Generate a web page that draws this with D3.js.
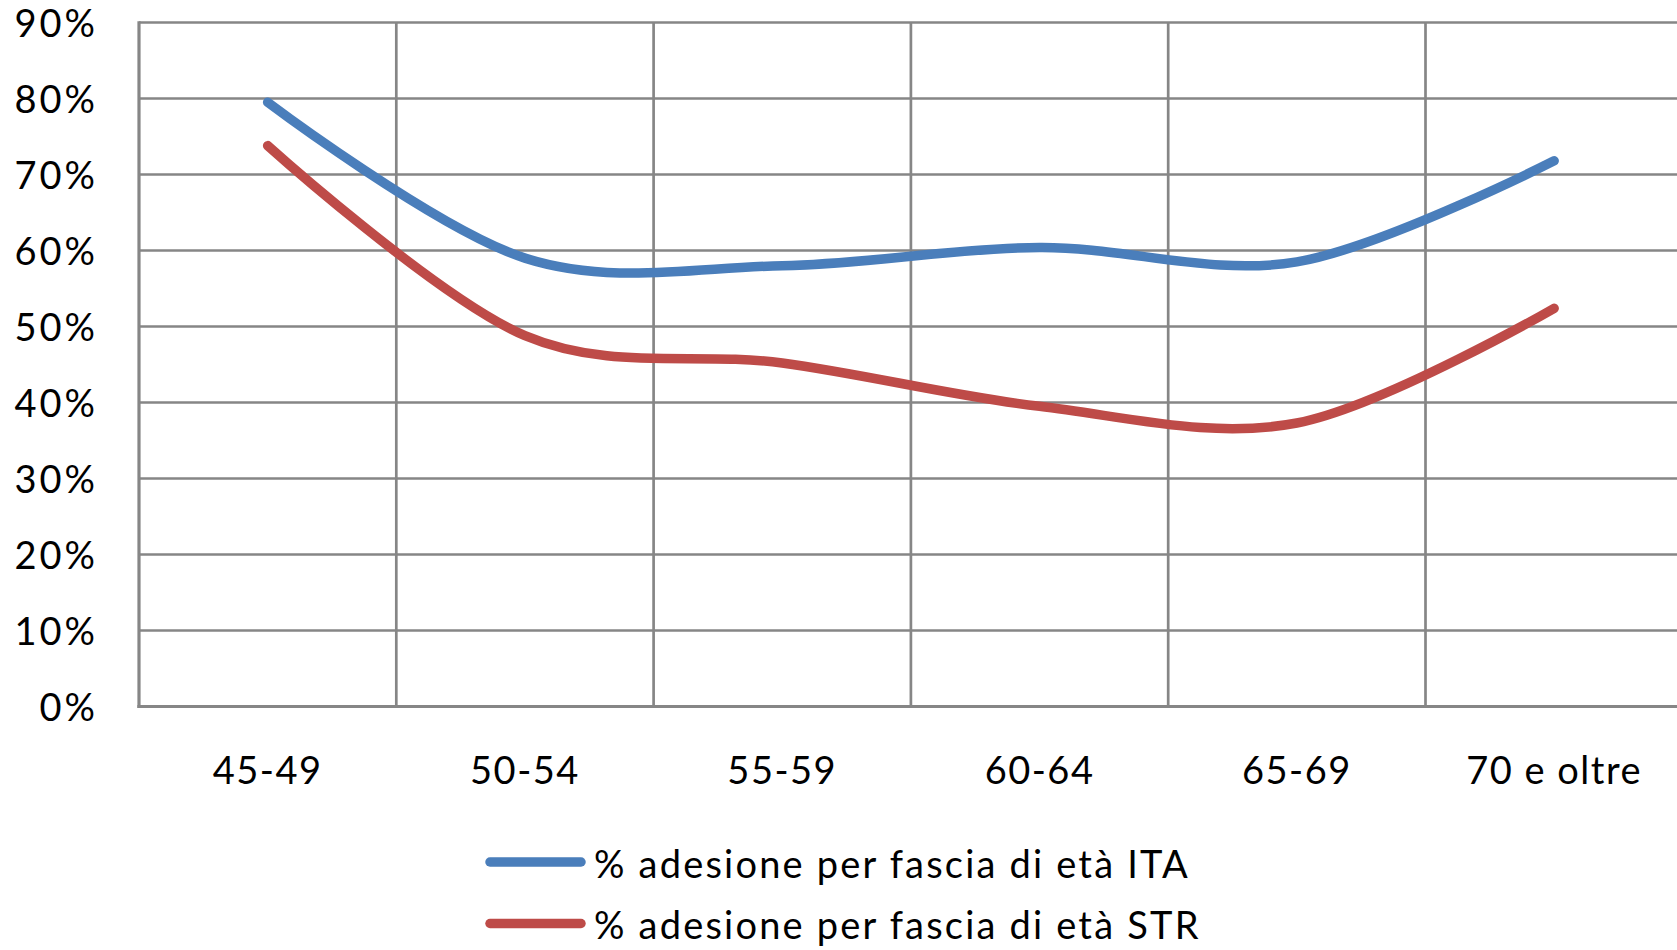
<!DOCTYPE html>
<html>
<head>
<meta charset="utf-8">
<script src="https://cdn.jsdelivr.net/npm/d3@7"></script>
<style>
  html, body { margin: 0; padding: 0; background: #fff; overflow: hidden; }
  svg { display: block; }
  text { font-family: Lato, "Noto Sans", sans-serif; fill: #000; }
</style>
</head>
<body>
<svg id="chart" width="1677" height="950"></svg>
<script>
// ---- data ----
const categories = ["45-49", "50-54", "55-59", "60-64", "65-69", "70 e oltre"];
const seriesNames = ["% adesione per fascia di età ITA", "% adesione per fascia di età STR"];
const itaValues = [0.795, 0.590, 0.580, 0.604, 0.585, 0.718];
const strValues = [0.738, 0.488, 0.452, 0.395, 0.373, 0.524];
const yTicks = [0, 0.1, 0.2, 0.3, 0.4, 0.5, 0.6, 0.7, 0.8, 0.9];
const seriesColors = ["#4A7EBB", "#BE4B48"];

(function () {
  // ---- layout ----
  const W = 1677;
  const plotLeft = 139, bandW = 257.3, plotTop = 22.5, plotBottom = 706.5;
  const fontSize = 38;
  const fontFam = "Lato, 'Noto Sans', sans-serif";

  const svg = d3.select("#chart");

  const x = d3.scaleBand().domain(categories).range([plotLeft, plotLeft + bandW * categories.length]).padding(0);
  const y = d3.scaleLinear().domain([0, 0.9]).range([plotBottom, plotTop]);
  const xc = d => x(d) + x.bandwidth() / 2;

  const gridColor = "#868686";

  // horizontal gridlines
  svg.append("g").selectAll("line").data(yTicks.filter(t => t > 0)).join("line")
    .attr("x1", plotLeft).attr("x2", W)
    .attr("y1", d => y(d)).attr("y2", d => y(d))
    .attr("stroke", gridColor).attr("stroke-width", 2.7);

  // vertical gridlines (band boundaries)
  svg.append("g").selectAll("line").data(categories.slice(1)).join("line")
    .attr("x1", d => x(d)).attr("x2", d => x(d))
    .attr("y1", plotTop).attr("y2", plotBottom)
    .attr("stroke", gridColor).attr("stroke-width", 2.7);

  // axis lines
  svg.append("line").attr("x1", plotLeft).attr("x2", plotLeft).attr("y1", plotTop - 1.3).attr("y2", plotBottom + 1.6)
    .attr("stroke", gridColor).attr("stroke-width", 3.2);
  svg.append("line").attr("x1", plotLeft - 1.6).attr("x2", W).attr("y1", plotBottom).attr("y2", plotBottom)
    .attr("stroke", gridColor).attr("stroke-width", 3.2);

  // y axis labels
  const yAxis = d3.axisLeft(y).tickValues(yTicks).tickFormat(d3.format(".0%")).tickSize(0).tickPadding(0);
  const gy = svg.append("g").attr("transform", `translate(${plotLeft - 41},0)`).call(yAxis);
  gy.select(".domain").remove();
  gy.selectAll("text").attr("font-size", fontSize).attr("font-family", fontFam).attr("fill", "#000")
    .attr("letter-spacing", 3).attr("dy", "0.36em");

  // x axis labels
  const xAxis = d3.axisBottom(x).tickSize(0).tickPadding(0);
  const gx = svg.append("g").attr("transform", `translate(0,${plotBottom})`).call(xAxis);
  gx.select(".domain").remove();
  gx.selectAll("text").attr("font-size", fontSize).attr("font-family", fontFam).attr("fill", "#000")
    .attr("letter-spacing", 1.5).attr("dy", null).attr("y", 77);

  // lines
  const line = d3.line().x((d, i) => xc(categories[i])).y(d => y(d)).curve(d3.curveCardinal.tension(0));
  [itaValues, strValues].forEach((vals, i) => {
    svg.append("path").datum(vals).attr("d", line)
      .attr("fill", "none").attr("stroke", seriesColors[i]).attr("stroke-width", 9.5)
      .attr("stroke-linecap", "round").attr("stroke-linejoin", "round");
  });

  // legend
  const legend = svg.append("g");
  seriesNames.forEach((name, i) => {
    const ly = 862 + i * 61.5;
    legend.append("line").attr("x1", 490).attr("x2", 581).attr("y1", ly).attr("y2", ly)
      .attr("stroke", seriesColors[i]).attr("stroke-width", 9.5).attr("stroke-linecap", "round");
    legend.append("text").attr("x", 594).attr("y", ly + 15.5).attr("font-size", fontSize)
      .attr("font-family", fontFam).attr("letter-spacing", 2.2).text(name);
  });
})();
</script>
</body>
</html>
